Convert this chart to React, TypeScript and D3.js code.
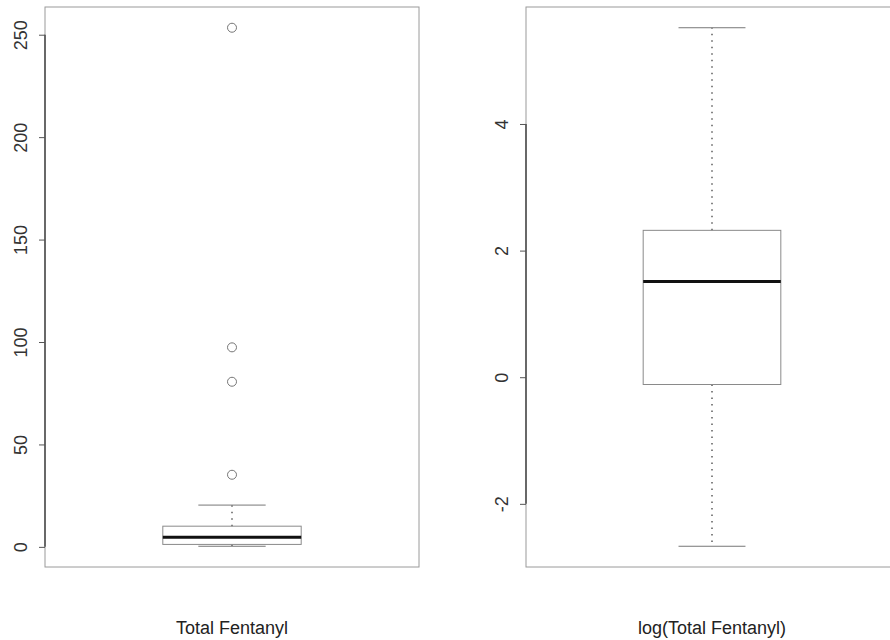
import React, { useRef, useEffect } from 'react';
import * as d3 from 'd3';

// box stats: [lower whisker, Q1, median, Q3, upper whisker]
const panelLabels = ['Total Fentanyl', 'log(Total Fentanyl)'];
const rawStats = [0.3, 1.2, 4.7, 10.1, 20.4];
const rawOutliers = [35.2, 80.6, 97.4, 253.4];
const logStats = [-2.67, -0.115, 1.51, 2.32, 5.52];
const logOutliers: number[] = [];
const rawTicks = [0, 50, 100, 150, 200, 250];
const logTicks = [-2, 0, 2, 4];

const W = 890;
const H = 640;

const App = () => {
  const svgRef = useRef<SVGSVGElement>(null);

  useEffect(() => {
    const svg = d3.select(svgRef.current);
    svg.selectAll('*').remove();

    const panels = [
      { label: panelLabels[0], stats: rawStats, outliers: rawOutliers, ticks: rawTicks, left: 45, right: 419 },
      { label: panelLabels[1], stats: logStats, outliers: logOutliers, ticks: logTicks, left: 526, right: 898 },
    ];
    const top = 7;
    const bottom = 567;

    panels.forEach(p => {
      const all = p.stats.concat(p.outliers);
      const lo = d3.min(all)!;
      const hi = d3.max(all)!;
      const pad = (hi - lo) * 0.04; // R style 4% extension
      const y = d3.scaleLinear().domain([lo - pad, hi + pad]).range([bottom, top]);
      const x = d3.scaleLinear().domain([0.5, 1.5]).range([p.left, p.right]);

      const g = svg.append('g');

      // frame
      g.append('rect')
        .attr('x', p.left).attr('y', top)
        .attr('width', p.right - p.left).attr('height', bottom - top)
        .attr('fill', 'none').attr('stroke', '#9a9a9a').attr('stroke-width', 1);

      // y axis (plain hyphen minus like R)
      const axis = g.append('g')
        .attr('transform', `translate(${p.left},0)`)
        .call(d3.axisLeft(y).tickValues(p.ticks).tickFormat(d => String(d)).tickSize(6).tickSizeOuter(0));
      axis.select('.domain')
        .attr('d', `M0,${y(p.ticks[0])}V${y(p.ticks[p.ticks.length - 1])}`)
        .attr('stroke', '#333').attr('stroke-width', 1.3);
      axis.selectAll('.tick line').attr('stroke', '#555');
      axis.selectAll('.tick text')
        .attr('x', null).attr('dy', null)
        .attr('transform', 'translate(-18,0) rotate(-90)')
        .attr('text-anchor', 'middle')
        .attr('font-family', 'Liberation Sans, Arial, sans-serif')
        .attr('font-size', 18)
        .attr('fill', '#333');

      const [wLo, q1, med, q3, wHi] = p.stats;
      const bx0 = x(1 - 0.185);
      const bx1 = x(1 + 0.185);
      const c0 = x(1 - 0.09);
      const c1 = x(1 + 0.09);
      const cx = x(1);

      // whiskers
      g.append('line')
        .attr('x1', cx).attr('x2', cx).attr('y1', y(q3)).attr('y2', y(wHi))
        .attr('stroke', '#444').attr('stroke-dasharray', '1.5,5').attr('stroke-width', 1.3);
      g.append('line')
        .attr('x1', cx).attr('x2', cx).attr('y1', y(q1)).attr('y2', y(wLo))
        .attr('stroke', '#444').attr('stroke-dasharray', '1.5,5').attr('stroke-width', 1.3);
      [wLo, wHi].forEach(v => {
        g.append('line')
          .attr('x1', c0).attr('x2', c1).attr('y1', y(v)).attr('y2', y(v))
          .attr('stroke', '#777').attr('stroke-width', 1);
      });

      // box
      g.append('rect')
        .attr('x', bx0).attr('y', y(q3))
        .attr('width', bx1 - bx0).attr('height', y(q1) - y(q3))
        .attr('fill', 'none').attr('stroke', '#8a8a8a').attr('stroke-width', 1);
      g.append('line')
        .attr('x1', bx0).attr('x2', bx1).attr('y1', y(med)).attr('y2', y(med))
        .attr('stroke', '#111').attr('stroke-width', 3);

      // outliers
      g.selectAll('circle.out')
        .data(p.outliers)
        .join('circle')
        .attr('class', 'out')
        .attr('cx', cx).attr('cy', d => y(d)).attr('r', 4.5)
        .attr('fill', 'none').attr('stroke', '#777').attr('stroke-width', 1);

      // x label
      g.append('text')
        .attr('x', cx).attr('y', 634)
        .attr('text-anchor', 'middle')
        .attr('font-family', 'Liberation Sans, Arial, sans-serif')
        .attr('font-size', 18)
        .attr('fill', '#222')
        .text(p.label);
    });
  }, []);

  return (
    <svg ref={svgRef} width={W} height={H}
      style={{ position: 'absolute', left: 0, top: 0, background: '#fff' }} />
  );
};

export default App;
